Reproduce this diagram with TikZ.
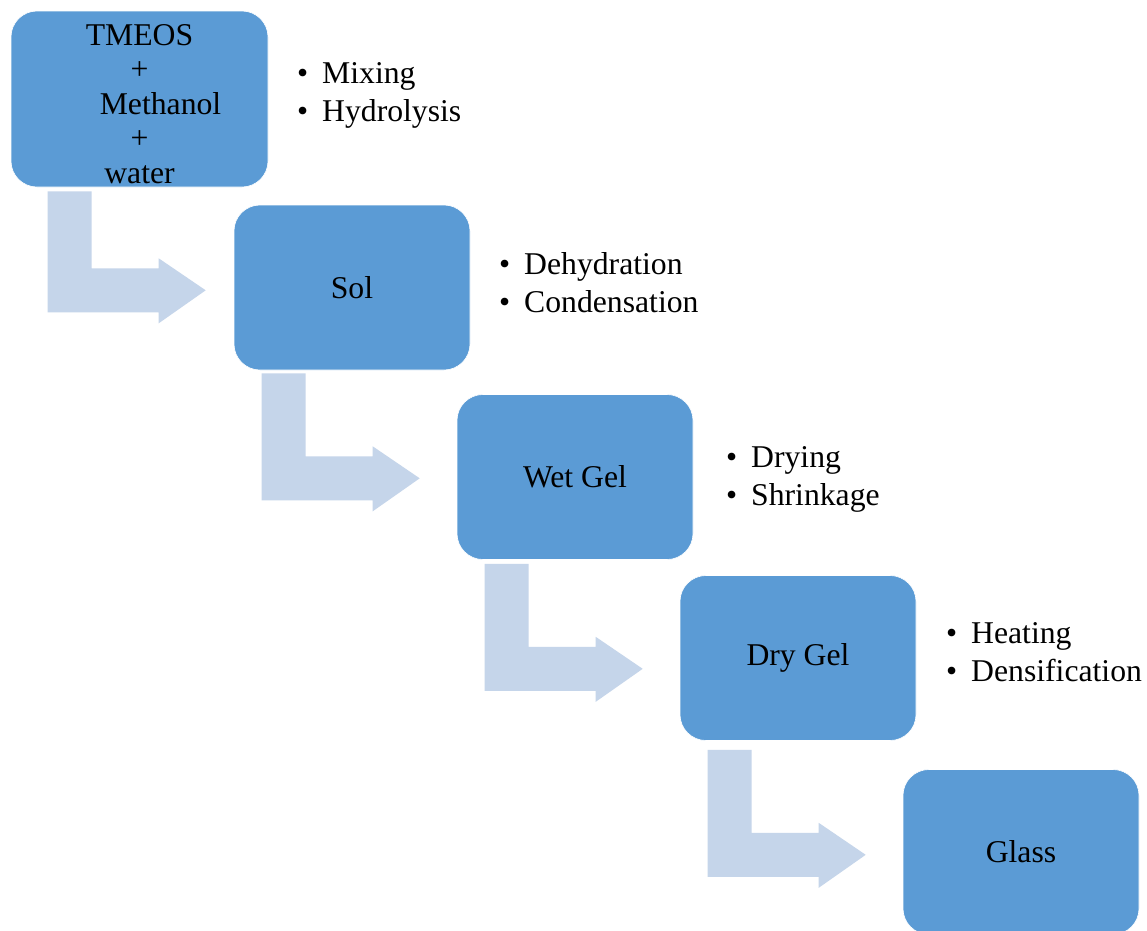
\documentclass[tikz,border=0pt]{standalone}
\usepackage{fontspec}
\setmainfont{Liberation Serif}
\usepackage{xcolor}
\usepackage{tikz}
\usetikzlibrary{positioning,calc}

\definecolor{boxblue}{RGB}{91,155,213}
\definecolor{arrowblue}{RGB}{197,213,234}

\newcommand{\bul}{\makebox[25pt][l]{\textbullet}}
% bent block arrow: #1 = top left corner, #2 = height of the vertical bar
\newcommand{\bentarrow}[2]{%
  \fill[arrowblue, shift={(#1)}] (0,0) -- (44,0) -- (44,{44-#2}) -- (111,{44-#2})
    -- (111,{54-#2}) -- (158,{22-#2}) -- (111,{-11-#2}) -- (111,{-#2}) -- (0,{-#2}) -- cycle;}

\begin{document}
\begin{tikzpicture}[x=1pt, y=1pt,
    stage/.style={rounded corners=26pt, fill=boxblue, draw=white, line width=0.6pt,
      minimum width=236pt, minimum height=165pt, inner sep=0pt, align=center,
      font=\fontsize{31.7}{34.5}\selectfont},
    stepnote/.style={anchor=base west, inner sep=0pt, font=\fontsize{31.7}{38}\selectfont}]
  \fill[white] (0,0) rectangle (1147,-930);
  \useasboundingbox (0,0) rectangle (1147,-930);

  \node[stage, minimum width=257pt, minimum height=176pt] (tmeos) at (139.5,-99)
    {\rule{0pt}{31pt}TMEOS\\+\\\hspace*{42pt}Methanol\\+\\water};
  \node[stage] (sol) at (352,-287.5) {Sol};
  \node[stage] (wetgel) at (575,-477) {Wet Gel};
  \node[stage] (drygel) at (798,-658) {Dry Gel};
  \node[stage] (glass) at (1021,-852) {Glass};

  \bentarrow{$(tmeos.south west)+(37,-4)$}{121}
  \bentarrow{$(sol.south west)+(28,-3)$}{127}
  \bentarrow{$(wetgel.south west)+(28,-4)$}{127}
  \bentarrow{$(drygel.south west)+(28,-9)$}{127}

  \node[stepnote] (mixing) at (297,-83) {\bul Mixing};
  \node[stepnote] (hydrolysis) at (297,-121) {\bul Hydrolysis};
  \node[stepnote] (dehydration) at (499,-274) {\bul Dehydration};
  \node[stepnote] (condensation) at (499,-312) {\bul Condensation};
  \node[stepnote] (drying) at (726,-467) {\bul Drying};
  \node[stepnote] (shrinkage) at (726,-505) {\bul Shrinkage};
  \node[stepnote] (heating) at (946,-643) {\bul Heating};
  \node[stepnote] (densification) at (946,-681) {\bul Densification};
\end{tikzpicture}
\end{document}
